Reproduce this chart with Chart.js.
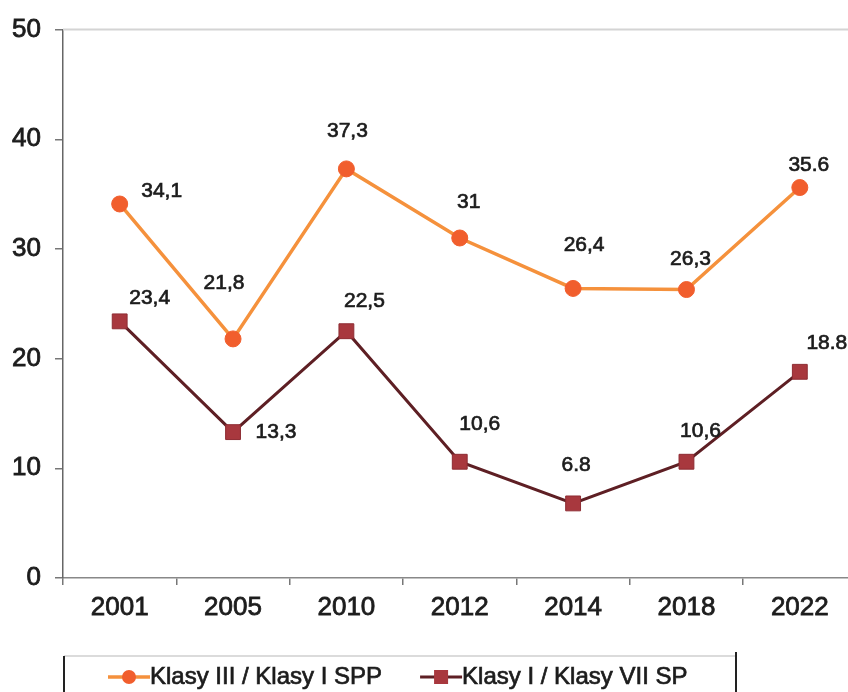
<!DOCTYPE html>
<html>
<head>
<meta charset="utf-8">
<script src="https://cdn.jsdelivr.net/npm/chart.js@4.4.1/dist/chart.umd.min.js"></script>
<style>
  html, body { margin: 0; padding: 0; background: #fff; overflow: hidden; }
  #chart { display: block; }
</style>
</head>
<body>
<canvas id="chart" width="868" height="692"></canvas>
<script>
// data
const years = ['2001', '2005', '2010', '2012', '2014', '2018', '2022'];
const sppValues = [34.1, 21.8, 37.3, 31, 26.4, 26.3, 35.6];
const spValues = [23.4, 13.3, 22.5, 10.6, 6.8, 10.6, 18.8];
const sppLabels = ['34,1', '21,8', '37,3', '31', '26,4', '26,3', '35.6'];
const spLabels = ['23,4', '13,3', '22,5', '10,6', '6.8', '10,6', '18.8'];
const seriesNames = ['Klasy III / Klasy I SPP', 'Klasy I / Klasy VII SP'];

const FONT = '"Liberation Sans", Arial, sans-serif';
const TEXT = '#1c1c1c';

// where each value label sits relative to its point (as in the original)
const labelShift = [
    [[42, -13], [-9, -56], [1, -38], [9, -36], [11, -43], [4, -30], [9, -22]],
    [[30, -23], [43, 0], [18, -30], [20, -38], [3, -38], [14, -31], [27, -29]]
];
const dataLabelTexts = [sppLabels, spLabels];

// scanned text looks a bit heavier, so every label gets a thin outline
function heavyText(ctx, str, x, y) {
    ctx.fillText(str, x, y);
    ctx.strokeText(str, x, y);
}

const valueLabels = {
    id: 'valueLabels',
    afterDatasetsDraw(chart) {
        const ctx = chart.ctx;
        ctx.save();
        ctx.font = '21px ' + FONT;
        ctx.fillStyle = TEXT;
        ctx.strokeStyle = TEXT;
        ctx.lineWidth = 0.7;
        ctx.textAlign = 'center';
        ctx.textBaseline = 'middle';
        chart.data.datasets.forEach((ds, i) => {
            chart.getDatasetMeta(i).data.forEach((pt, j) => {
                const s = labelShift[i][j];
                heavyText(ctx, dataLabelTexts[i][j], pt.x + s[0], pt.y + s[1]);
            });
        });
        ctx.restore();
    }
};

// top border of the plot + legend box at the bottom
const frameAndLegend = {
    id: 'frameAndLegend',
    afterDraw(chart) {
        const ctx = chart.ctx;
        const a = chart.chartArea;
        ctx.save();
        ctx.strokeStyle = '#d4d4d4';
        ctx.lineWidth = 2;
        ctx.beginPath();
        ctx.moveTo(a.left, a.top);
        ctx.lineTo(a.right, a.top);
        ctx.stroke();

        // legend box
        const boxL = 64, boxT = 656, boxR = 736;
        ctx.strokeStyle = '#cfcfcf';
        ctx.lineWidth = 1.5;
        ctx.beginPath();
        ctx.moveTo(boxL, boxT);
        ctx.lineTo(boxR, boxT);
        ctx.stroke();
        ctx.strokeStyle = '#222';
        ctx.lineWidth = 2;
        ctx.beginPath();
        ctx.moveTo(boxL, boxT);
        ctx.lineTo(boxL, 700);
        ctx.moveTo(boxR, boxT - 4);
        ctx.lineTo(boxR, 700);
        ctx.stroke();

        ctx.font = '24px ' + FONT;
        ctx.textBaseline = 'middle';
        ctx.textAlign = 'left';
        let x = 108;
        const y = 677;
        chart.data.datasets.forEach((ds, i) => {
            ctx.strokeStyle = ds.borderColor;
            ctx.lineWidth = ds.borderWidth;
            ctx.beginPath();
            ctx.moveTo(x, y);
            ctx.lineTo(x + 42, y);
            ctx.stroke();
            ctx.fillStyle = ds.pointBackgroundColor;
            if (ds.pointStyle === 'rect') {
                ctx.fillRect(x + 21 - 7, y - 7, 14, 14);
            } else {
                ctx.beginPath();
                ctx.arc(x + 21, y, 7, 0, Math.PI * 2);
                ctx.fill();
            }
            ctx.fillStyle = TEXT;
            ctx.strokeStyle = TEXT;
            ctx.lineWidth = 0.7;
            heavyText(ctx, ds.label, x + 42, y);
            x += 42 + ctx.measureText(ds.label).width + 38;
        });
        ctx.restore();
    }
};

new Chart(document.getElementById('chart'), {
    type: 'line',
    data: {
        labels: years,
        datasets: [
            {
                label: seriesNames[0],
                data: sppValues,
                borderColor: '#f5913c',
                borderWidth: 3.5,
                pointStyle: 'circle',
                pointRadius: 8,
                pointBackgroundColor: '#f15e2d',
                pointBorderColor: '#f15e2d',
                pointBorderWidth: 1,
                tension: 0
            },
            {
                label: seriesNames[1],
                data: spValues,
                borderColor: '#5e1f24',
                borderWidth: 3,
                pointStyle: 'rect',
                pointRadius: 10.5,
                pointBackgroundColor: '#a8383e',
                pointBorderColor: '#8e2c33',
                pointBorderWidth: 1,
                tension: 0
            }
        ]
    },
    options: {
        responsive: false,
        devicePixelRatio: 1,
        animation: false,
        layout: { padding: { top: 27, right: 3, left: 0, bottom: 0 } },
        plugins: {
            legend: { display: false },
            tooltip: { enabled: false }
        },
        scales: {
            x: {
                offset: true,
                grid: { offset: true, drawOnChartArea: false, tickLength: 7, color: '#777', lineWidth: 1.5 },
                border: { color: '#888', width: 1.5 },
                ticks: {
                    color: TEXT, font: { family: FONT, size: 26 }, padding: 7, maxRotation: 0,
                    textStrokeColor: TEXT, textStrokeWidth: 0.8
                },
                afterFit(scale) { scale.height = 114; }
            },
            y: {
                min: 0,
                max: 50,
                ticks: {
                    stepSize: 10, color: TEXT, font: { family: FONT, size: 26 }, padding: 14,
                    textStrokeColor: TEXT, textStrokeWidth: 0.8
                },
                grid: { drawOnChartArea: false, tickLength: 8, color: '#777', lineWidth: 1.5 },
                border: { color: '#666', width: 1.5 },
                afterFit(scale) { scale.width = 63; }
            }
        }
    },
    plugins: [valueLabels, frameAndLegend]
});
</script>
</body>
</html>
